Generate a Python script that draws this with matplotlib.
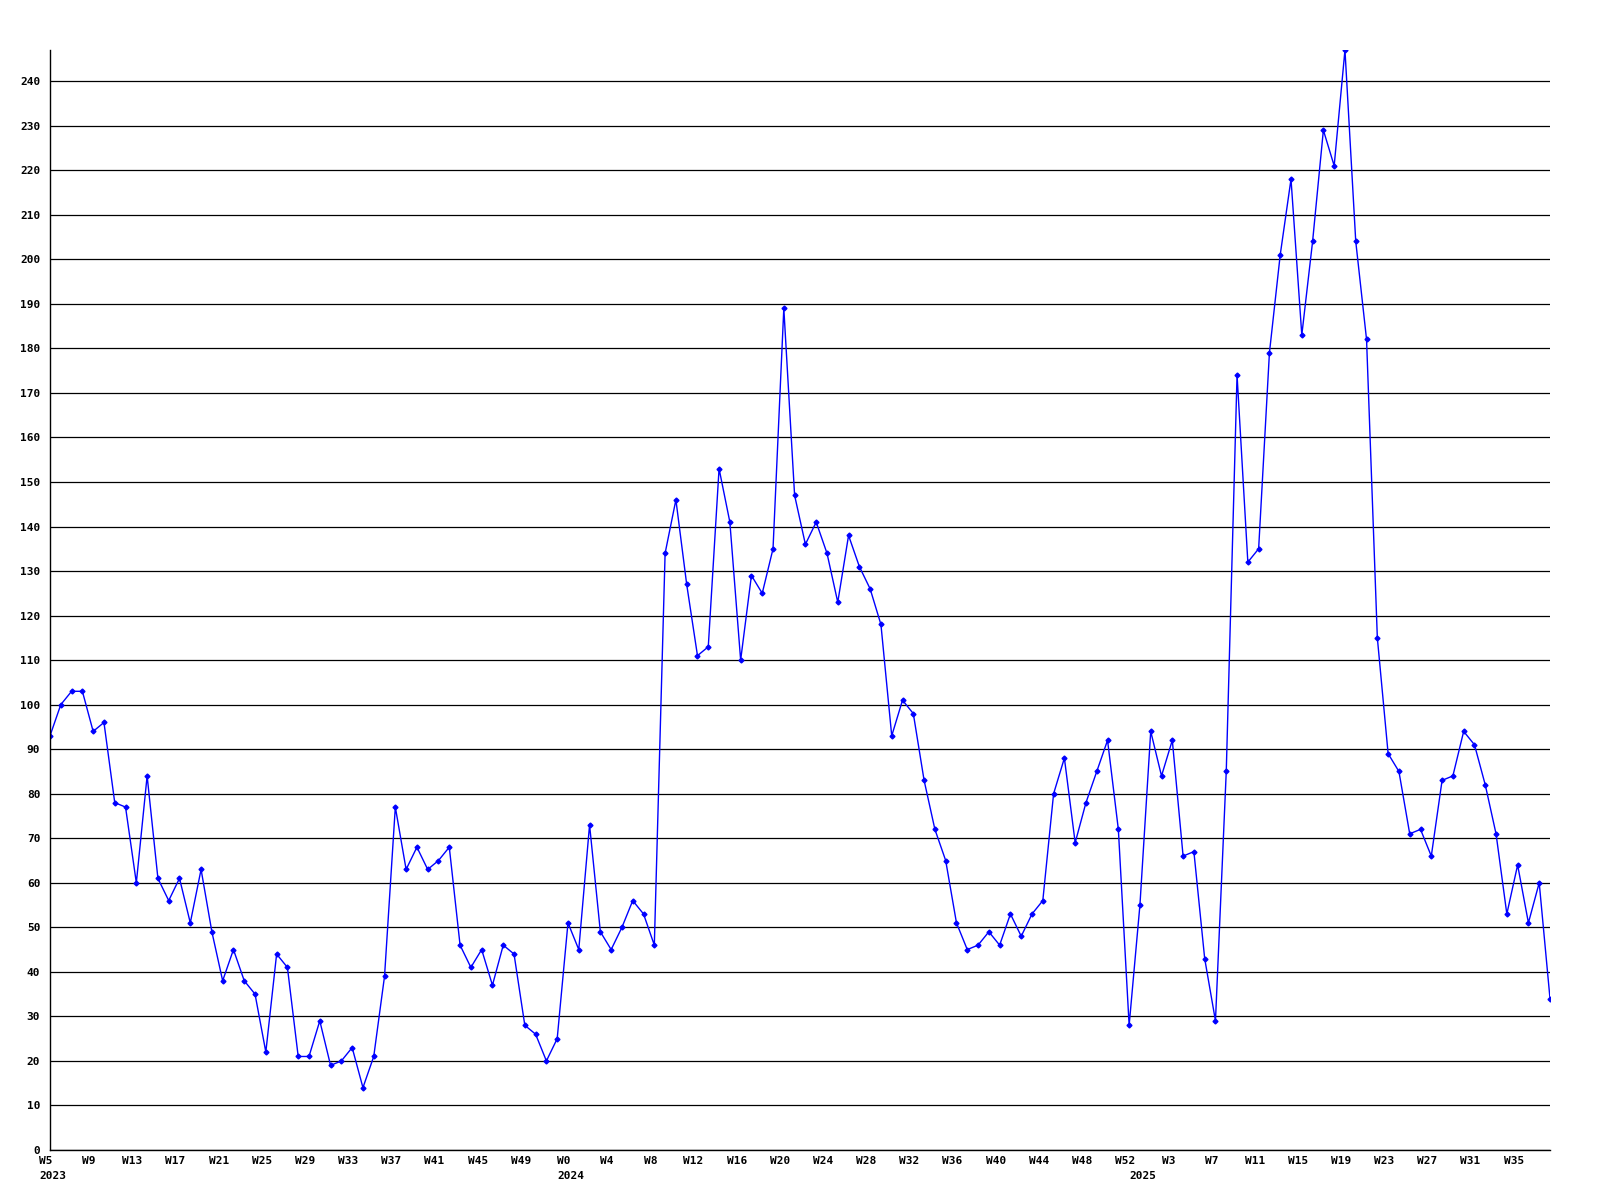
import matplotlib
matplotlib.use("Agg")
import matplotlib.pyplot as plt
import matplotlib.transforms as mtransforms

# weekly counts, 2023 W5 .. 2025 W38
values = [93, 100, 103, 103, 94, 96, 78, 77, 60, 84, 61, 56, 61, 51, 63, 49, 38, 45, 38, 35,
          22, 44, 41, 21, 21, 29, 19, 20, 23, 14, 21, 39, 77, 63, 68, 63, 65, 68, 46, 41,
          45, 37, 46, 44, 28, 26, 20, 25, 51, 45, 73, 49, 45, 50, 56, 53, 46, 134, 146, 127,
          111, 113, 153, 141, 110, 129, 125, 135, 189, 147, 136, 141, 134, 123, 138, 131, 126, 118, 93, 101,
          98, 83, 72, 65, 51, 45, 46, 49, 46, 53, 48, 53, 56, 80, 88, 69, 78, 85, 92, 72,
          28, 55, 94, 84, 92, 66, 67, 43, 29, 85, 174, 132, 135, 179, 201, 218, 183, 204, 229, 221,
          247, 204, 182, 115, 89, 85, 71, 72, 66, 83, 84, 94, 91, 82, 71, 53, 64, 51, 60, 34]

years = ["2023", "2024", "2025"]
year_weeks = [list(range(5, 53)), list(range(0, 53)), list(range(0, 39))]

weeks = []
year_start = []
for y, wk in zip(years, year_weeks):
    year_start.append(len(weeks))
    weeks += ["W%d" % w for w in wk]

x = list(range(len(values)))

fig = plt.figure(figsize=(16, 12), dpi=100)
ax = fig.add_axes([50 / 1600, 50 / 1200, 1500 / 1600, 1100 / 1200])

ax.plot(x, values, color="#0000ff", linewidth=1.0, marker="D", markersize=2.5,
        markerfacecolor="#0000ff", markeredgecolor="#0000ff")

ax.set_xlim(0, len(values) - 1)
ax.set_ylim(0, max(values))
ax.set_yticks(range(0, 250, 10))
ax.yaxis.grid(True, color="black", linewidth=0.9)
ax.set_axisbelow(True)

ticks = x[::4]
ax.set_xticks(ticks)
ax.set_xticklabels([weeks[i] for i in ticks])

font = dict(family="DejaVu Sans Mono", weight="bold", size=8)
for lab in ax.get_xticklabels() + ax.get_yticklabels():
    lab.set_fontfamily(font["family"])
    lab.set_fontweight(font["weight"])
    lab.set_fontsize(font["size"])
ax.tick_params(axis="both", length=0)
ax.tick_params(axis="y", pad=7)
ax.tick_params(axis="x", pad=4)

# week labels sit a little left of their points
shift = mtransforms.ScaledTranslation(-0.04, 0, fig.dpi_scale_trans)
for lab in ax.get_xticklabels():
    lab.set_transform(lab.get_transform() + shift)

for y, i in zip(years, year_start):
    ax.annotate(y, xy=(i, 0), xycoords=("data", "axes fraction"), xytext=(2, -19),
                textcoords="offset points", ha="center", va="center", **font)

for s in ["top", "right"]:
    ax.spines[s].set_visible(False)
for s in ["left", "bottom"]:
    ax.spines[s].set_color("black")
    ax.spines[s].set_linewidth(1.0)

fig.savefig("out.png", dpi=100, facecolor="white")
